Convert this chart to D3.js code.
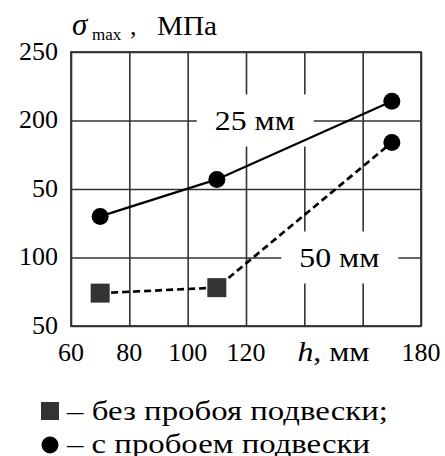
<!DOCTYPE html>
<html>
<head>
<meta charset="utf-8">
<script src="https://cdn.jsdelivr.net/npm/d3@7"></script>
<style>
  body { margin: 0; background: #fff; }
</style>
</head>
<body>
<div id="wrapper"></div>
<script>
// Data
const hValues = [70, 110, 170];
const sigma25 = [130, 157, 214];
const sigma50 = [74, 78, 184];
const marker25 = ["circle", "circle", "circle"];
const marker50 = ["square", "square", "circle"];

const xTicks = [60, 80, 100, 120, 140, 160, 180];
const xTickLabels = ["60", "80", "100", "120", "", "", "180"];
const yTicks = [50, 100, 150, 200, 250];
const yTickLabels = ["50", "100", "50", "200", "250"];

const curveLabels = ["25 мм", "50 мм"];
const curveLabelX = [123, 152];
const curveLabelY = [200, 100];

const legendLabels = ["– без пробоя подвески;", "– с пробоем подвески"];

const serif = "Liberation Serif";

function drawChart() {
  const dimensions = {
    width: 445,
    height: 456,
    margins: { top: 52, right: 24, bottom: 130, left: 71 },
  };
  dimensions.boundedWidth =
    dimensions.width - dimensions.margins.left - dimensions.margins.right;
  dimensions.boundedHeight =
    dimensions.height - dimensions.margins.top - dimensions.margins.bottom;

  const wrapper = d3
    .select("#wrapper")
    .append("svg")
    .attr("width", dimensions.width)
    .attr("height", dimensions.height)
    .attr("font-family", serif);

  const bounds = wrapper
    .append("g")
    .attr("transform", `translate(${dimensions.margins.left},${dimensions.margins.top})`);

  const xScale = d3.scaleLinear().domain([60, 180]).range([0, dimensions.boundedWidth]);
  const yScale = d3.scaleLinear().domain([50, 250]).range([dimensions.boundedHeight, 0]);

  const gridColor = "#333";

  // grid
  const xGrid = bounds
    .append("g")
    .attr("transform", `translate(0,${dimensions.boundedHeight})`)
    .call(d3.axisBottom(xScale).tickValues(xTicks).tickSize(-dimensions.boundedHeight).tickFormat(""));
  const yGrid = bounds
    .append("g")
    .call(d3.axisLeft(yScale).tickValues(yTicks).tickSize(-dimensions.boundedWidth).tickFormat(""));
  [xGrid, yGrid].forEach((g) => {
    g.select(".domain").remove();
    g.selectAll("line").attr("stroke", gridColor).attr("stroke-width", 1.6);
  });

  bounds
    .append("rect")
    .attr("width", dimensions.boundedWidth)
    .attr("height", dimensions.boundedHeight)
    .attr("fill", "none")
    .attr("stroke", gridColor)
    .attr("stroke-width", 1.8);

  // white boxes behind curve labels
  bounds
    .selectAll(".labelBox")
    .data(curveLabels)
    .join("rect")
    .attr("x", (d, i) => xScale(curveLabelX[i]) - 58)
    .attr("y", (d, i) => yScale(curveLabelY[i]) - 26)
    .attr("width", 117)
    .attr("height", 52)
    .attr("fill", "#fff");

  // lines
  const line = d3
    .line()
    .x((d) => xScale(d[0]))
    .y((d) => yScale(d[1]));

  bounds
    .append("path")
    .datum(d3.zip(hValues, sigma25))
    .attr("d", line)
    .attr("fill", "none")
    .attr("stroke", "#000")
    .attr("stroke-width", 2.2);

  bounds
    .append("path")
    .datum(d3.zip(hValues, sigma50))
    .attr("d", line)
    .attr("fill", "none")
    .attr("stroke", "#000")
    .attr("stroke-width", 2.7)
    .attr("stroke-dasharray", "7,4");

  // markers
  const drawMarkers = (values, kinds) => {
    const pts = d3.zip(hValues, values, kinds);
    bounds
      .append("g")
      .selectAll("circle")
      .data(pts.filter((d) => d[2] === "circle"))
      .join("circle")
      .attr("cx", (d) => xScale(d[0]))
      .attr("cy", (d) => yScale(d[1]))
      .attr("r", 8.5)
      .attr("fill", "#000");
    bounds
      .append("g")
      .selectAll("rect")
      .data(pts.filter((d) => d[2] === "square"))
      .join("rect")
      .attr("x", (d) => xScale(d[0]) - 9.5)
      .attr("y", (d) => yScale(d[1]) - 9.5)
      .attr("width", 19)
      .attr("height", 19)
      .attr("fill", "#333");
  };
  drawMarkers(sigma25, marker25);
  drawMarkers(sigma50, marker50);

  const fontSize = 26;
  const cyrSize = 27;

  // curve labels (the Cyrillic in the original is set wider, so stretch to fit)
  bounds
    .selectAll(".curveLabel")
    .data(curveLabels)
    .join("text")
    .attr("x", (d, i) => xScale(curveLabelX[i]) - 40)
    .attr("y", (d, i) => yScale(curveLabelY[i]))
    .attr("dy", "0.34em")
    .attr("font-family", serif)
    .attr("font-size", cyrSize)
    .attr("textLength", 80)
    .attr("lengthAdjust", "spacingAndGlyphs")
    .text((d) => d);

  // tick labels
  bounds
    .selectAll(".xLabel")
    .data(xTicks)
    .join("text")
    .attr("x", (d) => xScale(d))
    .attr("y", dimensions.boundedHeight + 35)
    .attr("text-anchor", "middle")
    .attr("font-family", serif)
    .attr("font-size", fontSize)
    .text((d, i) => xTickLabels[i]);

  const xTitle = bounds
    .append("text")
    .attr("x", xScale(150) - 36)
    .attr("y", dimensions.boundedHeight + 35)
    .attr("font-family", serif)
    .attr("font-size", cyrSize)
    .attr("textLength", 72)
    .attr("lengthAdjust", "spacingAndGlyphs");
  xTitle.append("tspan").attr("font-style", "italic").text("h");
  xTitle.append("tspan").text(", мм");

  bounds
    .selectAll(".yLabel")
    .data(yTicks)
    .join("text")
    .attr("x", -13)
    .attr("y", (d) => yScale(d))
    .attr("dy", "0.3em")
    .attr("text-anchor", "end")
    .attr("font-family", serif)
    .attr("font-size", fontSize)
    .text((d, i) => yTickLabels[i]);

  // y axis title
  const yTitle = wrapper
    .append("text")
    .attr("y", 35)
    .attr("font-family", serif)
    .attr("font-size", fontSize);
  yTitle.append("tspan").attr("x", 72).attr("font-style", "italic").attr("font-size", 31).text("σ");
  yTitle.append("tspan").attr("x", 92).attr("dy", 5).attr("font-size", 17).text("max");
  yTitle.append("tspan").attr("x", 130).attr("dy", -5).text(",");
  wrapper
    .append("text")
    .attr("x", 157)
    .attr("y", 35)
    .attr("font-family", serif)
    .attr("font-size", cyrSize)
    .attr("textLength", 60)
    .attr("lengthAdjust", "spacingAndGlyphs")
    .text("МПа");

  // legend
  const legendWidths = [321, 303];
  const legend = wrapper.append("g").attr("transform", "translate(50,0)");
  legend
    .append("rect")
    .attr("x", -9)
    .attr("y", 402)
    .attr("width", 18)
    .attr("height", 18)
    .attr("fill", "#333");
  legend.append("circle").attr("cx", 0).attr("cy", 445).attr("r", 8.5).attr("fill", "#000");
  legend
    .selectAll("text")
    .data(legendLabels)
    .join("text")
    .attr("x", 17)
    .attr("y", (d, i) => 420 + i * 33)
    .attr("font-family", serif)
    .attr("font-size", cyrSize)
    .attr("textLength", (d, i) => legendWidths[i])
    .attr("lengthAdjust", "spacingAndGlyphs")
    .text((d) => d);
}

drawChart();
</script>
</body>
</html>
